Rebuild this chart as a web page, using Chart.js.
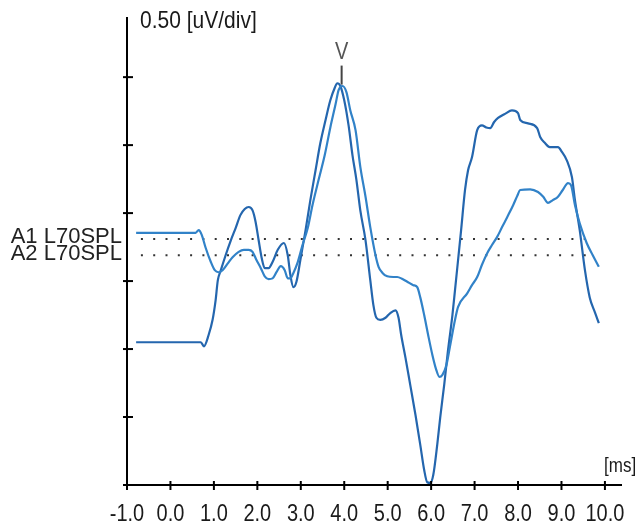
<!DOCTYPE html>
<html>
<head>
<meta charset="utf-8">
<script src="https://cdn.jsdelivr.net/npm/chart.js@4.4.0/dist/chart.umd.min.js"></script>
<style>
  html, body { margin: 0; padding: 0; background: #fff; }
  #wrap { width: 638px; height: 531px; }
</style>
</head>
<body>
<div id="wrap"><canvas id="abr" width="638" height="531"></canvas></div>
<script>
// x axis in ms, y axis in divisions (0.50 uV/div)
const xTicks = [-1, 0, 1, 2, 3, 4, 5, 6, 7, 8, 9, 10];
const xTickLabels = ["-1.0", "0.0", "1.0", "2.0", "3.0", "4.0", "5.0", "6.0", "7.0", "8.0", "9.0", "10.0"];
const yTicks = [0, 1, 2, 3, 4, 5, 6];

// A1 trace
const a1Ms = [-0.79, 0.58, 0.65, 0.72, 0.81, 0.93, 1.02, 1.11, 1.20, 1.32, 1.43, 1.57, 1.69, 1.80, 1.89, 1.98,
  2.08, 2.17, 2.26, 2.35, 2.44, 2.54, 2.63, 2.70, 2.76, 2.83, 2.93, 3.04, 3.16, 3.27, 3.41, 3.55, 3.68, 3.80,
  3.87, 3.96, 4.05, 4.14, 4.26, 4.37, 4.49, 4.60, 4.72, 4.79, 4.88, 4.99, 5.13, 5.22, 5.34, 5.45, 5.59, 5.68,
  5.75, 5.84, 5.93, 6.03, 6.12, 6.19, 6.26, 6.35, 6.44, 6.55, 6.62, 6.83, 6.94, 7.06, 7.17, 7.29, 7.40, 7.52,
  7.63, 7.75, 7.89, 7.98, 8.05, 8.28, 8.46, 8.58, 8.69, 8.80, 8.92, 9.03, 9.15, 9.22, 9.31, 9.42, 9.58, 9.72, 9.86];
const a1Div = [3.71, 3.71, 3.75, 3.68, 3.49, 3.28, 3.16, 3.13, 3.16, 3.26, 3.35, 3.43, 3.46, 3.46, 3.43, 3.31,
  3.19, 3.07, 3.03, 3.04, 3.13, 3.22, 3.16, 3.04, 3.04, 3.12, 3.28, 3.53, 3.78, 4.12, 4.49, 4.85, 5.26, 5.60,
  5.81, 5.87, 5.78, 5.51, 5.22, 4.68, 4.24, 3.79, 3.38, 3.21, 3.12, 3.07, 3.06, 3.06, 3.03, 2.99, 2.94, 2.91,
  2.76, 2.50, 2.21, 1.91, 1.69, 1.59, 1.62, 1.76, 2.06, 2.43, 2.62, 2.82, 2.94, 3.06, 3.24, 3.41, 3.53, 3.65,
  3.79, 3.94, 4.12, 4.25, 4.34, 4.35, 4.31, 4.24, 4.15, 4.19, 4.24, 4.34, 4.44, 4.41, 4.12, 3.85, 3.56, 3.38, 3.21];

// A2 trace
const a2Ms = [-0.79, 0.70, 0.77, 0.88, 0.97, 1.04, 1.09, 1.16, 1.27, 1.39, 1.50, 1.61, 1.71, 1.80, 1.89, 1.96,
  2.03, 2.10, 2.17, 2.26, 2.35, 2.47, 2.61, 2.70, 2.76, 2.83, 2.90, 2.99, 3.11, 3.22, 3.34, 3.45, 3.57, 3.68,
  3.78, 3.84, 3.91, 4.00, 4.10, 4.19, 4.28, 4.37, 4.49, 4.60, 4.67, 4.74, 4.83, 4.95, 5.06, 5.18, 5.25, 5.31,
  5.41, 5.52, 5.64, 5.75, 5.84, 5.91, 5.98, 6.05, 6.14, 6.21, 6.30, 6.39, 6.49, 6.55, 6.62, 6.69, 6.78, 6.85,
  6.94, 7.06, 7.17, 7.27, 7.36, 7.45, 7.54, 7.70, 7.86, 8.00, 8.05, 8.23, 8.44, 8.51, 8.62, 8.73, 8.92, 9.01,
  9.12, 9.24, 9.31, 9.42, 9.54, 9.65, 9.77, 9.86];
const a2Div = [2.10, 2.10, 2.04, 2.21, 2.43, 2.72, 3.01, 3.16, 3.38, 3.60, 3.78, 3.97, 4.06, 4.09, 4.04, 3.87,
  3.60, 3.34, 3.19, 3.19, 3.28, 3.46, 3.56, 3.38, 3.09, 2.91, 2.99, 3.31, 3.75, 4.19, 4.63, 5.03, 5.37, 5.66,
  5.84, 5.91, 5.87, 5.66, 5.29, 4.85, 4.49, 4.04, 3.60, 3.01, 2.65, 2.46, 2.43, 2.46, 2.53, 2.57, 2.46, 2.21,
  1.87, 1.47, 1.03, 0.59, 0.22, 0.04, 0.03, 0.15, 0.59, 1.00, 1.47, 1.99, 2.50, 2.87, 3.31, 3.75, 4.34, 4.63,
  4.82, 5.22, 5.29, 5.26, 5.25, 5.34, 5.40, 5.46, 5.51, 5.47, 5.37, 5.32, 5.25, 5.12, 5.03, 4.97, 4.97, 4.90,
  4.78, 4.53, 4.19, 3.75, 3.16, 2.76, 2.54, 2.38];

// dotted reference levels
const baseMs = [-0.68, 9.79];
const a1Base = 3.62;
const a2Base = 3.38;
// wave V marker
const waveVMs = 3.94;
const waveVDiv = [5.89, 6.17];

const pts = (xs, ys) => xs.map((x, i) => ({ x: x, y: ys[i] }));
const FONT = '"Liberation Sans", Arial, sans-serif';

const decor = {
  id: "decor",
  afterDraw(chart) {
    const ctx = chart.ctx;
    const x = chart.scales.x, y = chart.scales.y;
    const area = chart.chartArea;
    ctx.save();
    ctx.strokeStyle = "#000";
    ctx.lineWidth = 2;
    // tick marks crossing the axes
    xTicks.forEach((v) => {
      const px = x.getPixelForValue(v);
      ctx.beginPath();
      ctx.moveTo(px, area.bottom - 4);
      ctx.lineTo(px, area.bottom + 5);
      ctx.stroke();
    });
    yTicks.forEach((v) => {
      const py = y.getPixelForValue(v);
      ctx.beginPath();
      ctx.moveTo(area.left - 4, py);
      ctx.lineTo(area.left + 6, py);
      ctx.stroke();
    });

    const txt = (s, px, py, size, align, color, sy) => {
      ctx.save();
      ctx.translate(px, py);
      ctx.scale(1, sy);
      ctx.font = size + "px " + FONT;
      ctx.textAlign = align;
      ctx.textBaseline = "middle";
      ctx.fillStyle = color;
      ctx.fillText(s, 0, 0);
      ctx.restore();
    };
    xTicks.forEach((v, i) => {
      txt(xTickLabels[i], x.getPixelForValue(v), area.bottom + 30, 20, "center", "#1a1a1a", 1.17);
    });
    txt("[ms]", area.right - 17, area.bottom - 18, 17, "left", "#1a1a1a", 1.15);
    txt("0.50 [uV/div]", area.left + 13, area.top + 4, 21, "left", "#1a1a1a", 1.12);
    txt("A1 L70SPL", area.left - 5, y.getPixelForValue(a1Base) - 2, 22, "right", "#222", 1.0);
    txt("A2 L70SPL", area.left - 5, y.getPixelForValue(a2Base) - 1, 22, "right", "#222", 1.0);
    txt("V", x.getPixelForValue(waveVMs), y.getPixelForValue(waveVDiv[1]) - 13, 20, "center", "#555", 1.15);
    ctx.restore();
  }
};

new Chart(document.getElementById("abr").getContext("2d"), {
  type: "line",
  data: {
    datasets: [
      {
        label: "A1",
        data: pts(a1Ms, a1Div),
        borderColor: "#3182c8",
        borderWidth: 2.2,
        pointRadius: 0,
        cubicInterpolationMode: "monotone"
      },
      {
        label: "A2",
        data: pts(a2Ms, a2Div),
        borderColor: "#2466ae",
        borderWidth: 2.2,
        pointRadius: 0,
        cubicInterpolationMode: "monotone"
      },
      {
        label: "A1 base",
        data: pts(baseMs, [a1Base, a1Base]),
        borderColor: "#333",
        borderWidth: 2,
        borderDash: [2, 10.3],
        pointRadius: 0
      },
      {
        label: "A2 base",
        data: pts(baseMs, [a2Base, a2Base]),
        borderColor: "#333",
        borderWidth: 2,
        borderDash: [2, 10.3],
        pointRadius: 0
      },
      {
        label: "V",
        data: pts([waveVMs, waveVMs], waveVDiv),
        borderColor: "#444",
        borderWidth: 2,
        pointRadius: 0
      }
    ]
  },
  options: {
    responsive: false,
    animation: false,
    layout: { padding: { top: 18, right: 17, left: 0, bottom: 0 } },
    plugins: { legend: { display: false }, tooltip: { enabled: false } },
    scales: {
      x: {
        type: "linear",
        min: -1,
        max: 10.37,
        afterBuildTicks: (s) => { s.ticks = xTicks.map((v) => ({ value: v })); },
        afterFit: (s) => { s.height = 46; },
        ticks: { display: false },
        grid: { display: false },
        border: { display: true, color: "#000", width: 2 }
      },
      y: {
        type: "linear",
        min: 0,
        max: 6.87,
        afterBuildTicks: (s) => { s.ticks = yTicks.map((v) => ({ value: v })); },
        afterFit: (s) => { s.width = 127; },
        ticks: { display: false },
        grid: { display: false },
        border: { display: true, color: "#000", width: 2 }
      }
    }
  },
  plugins: [decor]
});
</script>
</body>
</html>
